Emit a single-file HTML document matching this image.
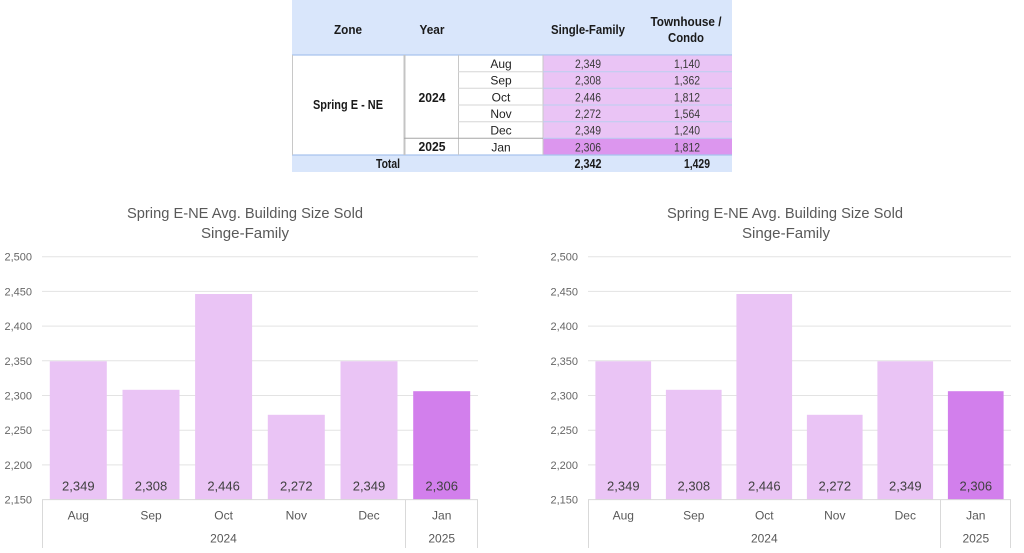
<!DOCTYPE html>
<html>
<head>
<meta charset="utf-8">
<style>
html,body{margin:0;padding:0;background:#ffffff;}
svg{display:block;}
</style>
</head>
<body>
<svg width="1024" height="553" viewBox="0 0 1024 553" xmlns="http://www.w3.org/2000/svg">
<rect x="0" y="0" width="1024" height="553" fill="#ffffff"/>

<!-- ============ TABLE ============ -->
<g font-family="Liberation Sans, sans-serif">
  <rect x="292" y="0" width="440" height="55" fill="#D9E6FB"/>
  <line x1="292" y1="55" x2="732" y2="55" stroke="#A9C4EE" stroke-width="1.2"/>
  <rect x="543" y="55.5" width="189" height="83" fill="#EAC4F5"/>
  <rect x="543" y="138.3" width="189" height="16.7" fill="#DC96EE"/>
  <rect x="292" y="155" width="440" height="17" fill="#D9E6FB"/>
  <line x1="292" y1="155" x2="732" y2="155" stroke="#A9C4EE" stroke-width="1.2"/>

  <g stroke="#C8C8C8" stroke-width="1">
    <line x1="292.5" y1="55" x2="292.5" y2="155"/>
    <line x1="458.5" y1="55" x2="458.5" y2="155"/>
    <line x1="543" y1="55" x2="543" y2="155"/>
  </g>
  <line x1="404.5" y1="55" x2="404.5" y2="155" stroke="#C4C4C4" stroke-width="2"/>
  <line x1="404" y1="138.3" x2="543" y2="138.3" stroke="#A6A6A6" stroke-width="1"/>
  <g stroke="#D6D6D6" stroke-width="1">
    <line x1="458" y1="71.7" x2="543" y2="71.7"/>
    <line x1="458" y1="88.3" x2="543" y2="88.3"/>
    <line x1="458" y1="105" x2="543" y2="105"/>
    <line x1="458" y1="121.7" x2="543" y2="121.7"/>
  </g>
  <g stroke="#B9CFF0" stroke-width="1">
    <line x1="543" y1="71.7" x2="732" y2="71.7"/>
    <line x1="543" y1="88.3" x2="732" y2="88.3"/>
    <line x1="543" y1="105" x2="732" y2="105"/>
    <line x1="543" y1="121.7" x2="732" y2="121.7"/>
    <line x1="543" y1="138.3" x2="732" y2="138.3"/>
  </g>

  <g font-weight="bold" font-size="13" fill="#1a1a1a" text-anchor="middle">
    <text x="348" y="34" textLength="28" lengthAdjust="spacingAndGlyphs">Zone</text>
    <text x="432" y="34" textLength="25" lengthAdjust="spacingAndGlyphs">Year</text>
    <text x="588" y="34" textLength="74" lengthAdjust="spacingAndGlyphs">Single-Family</text>
    <text x="686" y="26" textLength="71" lengthAdjust="spacingAndGlyphs">Townhouse /</text>
    <text x="686" y="42" textLength="36" lengthAdjust="spacingAndGlyphs">Condo</text>
    <text x="348" y="109" textLength="70" lengthAdjust="spacingAndGlyphs">Spring E - NE</text>
    <text x="432" y="102" textLength="27" lengthAdjust="spacingAndGlyphs">2024</text>
    <text x="432" y="151" textLength="27" lengthAdjust="spacingAndGlyphs">2025</text>
    <text x="388" y="168" textLength="24" lengthAdjust="spacingAndGlyphs">Total</text>
    <text x="588" y="168" textLength="27" lengthAdjust="spacingAndGlyphs">2,342</text>
    <text x="697" y="168" textLength="26" lengthAdjust="spacingAndGlyphs">1,429</text>
  </g>

  <g font-size="12" fill="#222" text-anchor="middle">
    <text x="501" y="68">Aug</text>
    <text x="501" y="84.7">Sep</text>
    <text x="501" y="101.3">Oct</text>
    <text x="501" y="118">Nov</text>
    <text x="501" y="134.7">Dec</text>
    <text x="501" y="151.3">Jan</text>
  </g>
  <g font-size="12" fill="#3a3a3a" text-anchor="middle">
    <text x="588" y="68" textLength="26" lengthAdjust="spacingAndGlyphs">2,349</text>
    <text x="588" y="84.7" textLength="26" lengthAdjust="spacingAndGlyphs">2,308</text>
    <text x="588" y="101.3" textLength="26" lengthAdjust="spacingAndGlyphs">2,446</text>
    <text x="588" y="118" textLength="26" lengthAdjust="spacingAndGlyphs">2,272</text>
    <text x="588" y="134.7" textLength="26" lengthAdjust="spacingAndGlyphs">2,349</text>
    <text x="588" y="151.3" textLength="26" lengthAdjust="spacingAndGlyphs">2,306</text>
    <text x="687" y="68" textLength="26" lengthAdjust="spacingAndGlyphs">1,140</text>
    <text x="687" y="84.7" textLength="26" lengthAdjust="spacingAndGlyphs">1,362</text>
    <text x="687" y="101.3" textLength="26" lengthAdjust="spacingAndGlyphs">1,812</text>
    <text x="687" y="118" textLength="26" lengthAdjust="spacingAndGlyphs">1,564</text>
    <text x="687" y="134.7" textLength="26" lengthAdjust="spacingAndGlyphs">1,240</text>
    <text x="687" y="151.3" textLength="26" lengthAdjust="spacingAndGlyphs">1,812</text>
  </g>
</g>

<!-- ============ LEFT CHART ============ -->
<g font-family="Liberation Sans, sans-serif">
  <g fill="#595959" text-anchor="middle" font-size="15">
    <text x="245" y="218" textLength="236" lengthAdjust="spacingAndGlyphs">Spring E-NE Avg. Building Size Sold</text>
    <text x="245" y="238" textLength="88" lengthAdjust="spacingAndGlyphs">Singe-Family</text>
  </g>
  <g stroke="#E3E3E3" stroke-width="1">
    <line x1="42" y1="256.7" x2="478" y2="256.7"/>
    <line x1="42" y1="291.4" x2="478" y2="291.4"/>
    <line x1="42" y1="326.1" x2="478" y2="326.1"/>
    <line x1="42" y1="360.8" x2="478" y2="360.8"/>
    <line x1="42" y1="395.5" x2="478" y2="395.5"/>
    <line x1="42" y1="430.2" x2="478" y2="430.2"/>
    <line x1="42" y1="464.9" x2="478" y2="464.9"/>
  </g>
  <g fill="#666666" font-size="11" text-anchor="end">
    <text x="32" y="260.7">2,500</text>
    <text x="32" y="295.4">2,450</text>
    <text x="32" y="330.1">2,400</text>
    <text x="32" y="364.8">2,350</text>
    <text x="32" y="399.5">2,300</text>
    <text x="32" y="434.2">2,250</text>
    <text x="32" y="468.9">2,200</text>
    <text x="32" y="503.6">2,150</text>
  </g>
  <g fill="#EAC4F5">
    <rect x="49.8" y="361.3" width="57" height="138.3"/>
    <rect x="122.5" y="389.8" width="57" height="109.8"/>
    <rect x="195.1" y="294.0" width="57" height="205.6"/>
    <rect x="267.8" y="414.8" width="57" height="84.8"/>
    <rect x="340.5" y="361.3" width="57" height="138.3"/>
  </g>
  <rect x="413.2" y="391.2" width="57" height="108.4" fill="#D27FEC"/>
  <g stroke="#D9D9D9" stroke-width="1">
    <line x1="42" y1="499.6" x2="478" y2="499.6"/>
    <line x1="42.5" y1="499.6" x2="42.5" y2="548"/>
    <line x1="405.5" y1="499.6" x2="405.5" y2="548"/>
    <line x1="477.5" y1="499.6" x2="477.5" y2="548"/>
  </g>
  <g fill="#404040" font-size="13" text-anchor="middle">
    <text x="78.3" y="490.5">2,349</text>
    <text x="151" y="490.5">2,308</text>
    <text x="223.6" y="490.5">2,446</text>
    <text x="296.3" y="490.5">2,272</text>
    <text x="369" y="490.5">2,349</text>
    <text x="441.7" y="490.5">2,306</text>
  </g>
  <g fill="#595959" font-size="12" text-anchor="middle">
    <text x="78.3" y="519.5">Aug</text>
    <text x="151" y="519.5">Sep</text>
    <text x="223.6" y="519.5">Oct</text>
    <text x="296.3" y="519.5">Nov</text>
    <text x="369" y="519.5">Dec</text>
    <text x="441.7" y="519.5">Jan</text>
    <text x="223.5" y="542.5">2024</text>
    <text x="441.7" y="542.5">2025</text>
  </g>
</g>

<!-- ============ RIGHT CHART ============ -->
<g font-family="Liberation Sans, sans-serif">
  <g fill="#595959" text-anchor="middle" font-size="15">
    <text x="785" y="218" textLength="236" lengthAdjust="spacingAndGlyphs">Spring E-NE Avg. Building Size Sold</text>
    <text x="786" y="238" textLength="88" lengthAdjust="spacingAndGlyphs">Singe-Family</text>
  </g>
  <g stroke="#E3E3E3" stroke-width="1">
    <line x1="588" y1="256.7" x2="1011" y2="256.7"/>
    <line x1="588" y1="291.4" x2="1011" y2="291.4"/>
    <line x1="588" y1="326.1" x2="1011" y2="326.1"/>
    <line x1="588" y1="360.8" x2="1011" y2="360.8"/>
    <line x1="588" y1="395.5" x2="1011" y2="395.5"/>
    <line x1="588" y1="430.2" x2="1011" y2="430.2"/>
    <line x1="588" y1="464.9" x2="1011" y2="464.9"/>
  </g>
  <g fill="#666666" font-size="11" text-anchor="end">
    <text x="578" y="260.7">2,500</text>
    <text x="578" y="295.4">2,450</text>
    <text x="578" y="330.1">2,400</text>
    <text x="578" y="364.8">2,350</text>
    <text x="578" y="399.5">2,300</text>
    <text x="578" y="434.2">2,250</text>
    <text x="578" y="468.9">2,200</text>
    <text x="578" y="503.6">2,150</text>
  </g>
  <g fill="#EAC4F5">
    <rect x="595.4" y="361.3" width="55.7" height="138.3"/>
    <rect x="665.9" y="389.8" width="55.7" height="109.8"/>
    <rect x="736.4" y="294.0" width="55.7" height="205.6"/>
    <rect x="806.9" y="414.8" width="55.7" height="84.8"/>
    <rect x="877.4" y="361.3" width="55.7" height="138.3"/>
  </g>
  <rect x="947.9" y="391.2" width="55.7" height="108.4" fill="#D27FEC"/>
  <g stroke="#D9D9D9" stroke-width="1">
    <line x1="588" y1="499.6" x2="1011" y2="499.6"/>
    <line x1="588.5" y1="499.6" x2="588.5" y2="548"/>
    <line x1="940.5" y1="499.6" x2="940.5" y2="548"/>
    <line x1="1010.5" y1="499.6" x2="1010.5" y2="548"/>
  </g>
  <g fill="#404040" font-size="13" text-anchor="middle">
    <text x="623.3" y="490.5">2,349</text>
    <text x="693.8" y="490.5">2,308</text>
    <text x="764.3" y="490.5">2,446</text>
    <text x="834.8" y="490.5">2,272</text>
    <text x="905.3" y="490.5">2,349</text>
    <text x="975.8" y="490.5">2,306</text>
  </g>
  <g fill="#595959" font-size="12" text-anchor="middle">
    <text x="623.3" y="519.5">Aug</text>
    <text x="693.8" y="519.5">Sep</text>
    <text x="764.3" y="519.5">Oct</text>
    <text x="834.8" y="519.5">Nov</text>
    <text x="905.3" y="519.5">Dec</text>
    <text x="975.8" y="519.5">Jan</text>
    <text x="764.3" y="542.5">2024</text>
    <text x="975.8" y="542.5">2025</text>
  </g>
</g>
</svg>
</body>
</html>
